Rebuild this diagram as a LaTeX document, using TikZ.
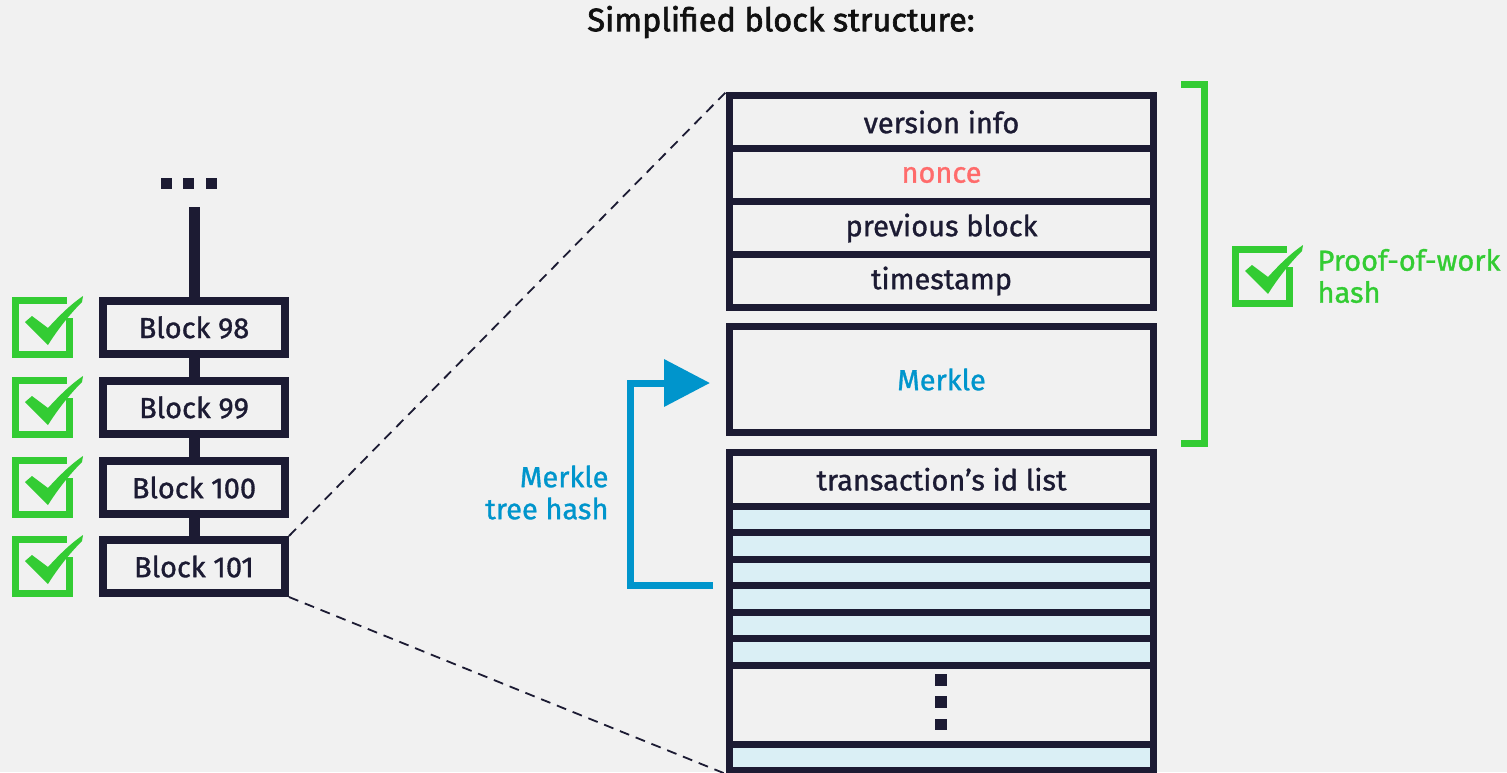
\documentclass[tikz,border=0pt]{standalone}
\usepackage{fontspec}
\setmainfont{Fira Sans}[FakeBold=1.1]
\newfontfamily\titlefont{Fira Sans}[FakeBold=2]
\usetikzlibrary{arrows.meta}

\definecolor{bg}{HTML}{F1F1F1}
\definecolor{ink}{HTML}{1C1B33}
\definecolor{titleink}{HTML}{111111}
\definecolor{okgreen}{HTML}{33CC33}
\definecolor{mblue}{HTML}{0095CC}
\definecolor{noncered}{HTML}{FF6B6B}
\definecolor{rowfill}{HTML}{DAEFF5}

\tikzset{
  labelfont/.style={font=\fontsize{29}{32}\selectfont},
  blockbox/.style={draw=ink, line width=8pt, fill=bg, minimum width=182pt,
    minimum height=53pt, inner sep=0pt, labelfont, text=ink},
  fieldbox/.style={draw=ink, line width=7pt, minimum width=424pt,
    minimum height=53pt, inner sep=0pt, labelfont, text=ink},
  txrow/.style={draw=ink, line width=7pt, fill=rowfill, minimum width=424pt,
    minimum height=26.5pt, inner sep=0pt},
  chainlink/.style={draw=ink, line width=11pt},
  zoomline/.style={draw=ink, line width=1.8pt, dash pattern=on 10pt off 7pt},
  merklearrow/.style={draw=mblue, line width=7pt,
    -{Triangle[length=46pt,width=46pt]}},
  pwbracket/.style={draw=okgreen, line width=7pt},
  checkicon/.pic={
    \draw[okgreen, line width=7pt] (57.5,21) -- (57.5,57.5) -- (3.5,57.5)
      -- (3.5,3.5) -- (55,3.5);
    \fill[okgreen] (13,25) -- (20,19) -- (36,31)
      .. controls (48,18) and (58,8) .. (71,-1) -- (70,5)
      .. controls (58,17) and (46,32) .. (36,48) -- cycle;
  }
}

\begin{document}
\begin{tikzpicture}[x=1pt,y=-1pt]
\fill[bg] (0,0) rectangle (1507,772);
\useasboundingbox (0,0) rectangle (1507,772);
\clip (0,0) rectangle (1507,772);

% title
\node[font=\titlefont\fontsize{32.5}{36}\selectfont, text=titleink] (title) at (781,22)
  {Simplified block structure:};

% chain of blocks
\fill[ink] (161,178) rectangle (172,189);
\fill[ink] (183,178) rectangle (194,189);
\fill[ink] (206,178) rectangle (217,189);
\coordinate (chaintop) at (194,207);

\node[blockbox] (b98)  at (194,327.5) {Block 98};
\node[blockbox] (b99)  at (194,407.5) {Block 99};
\node[blockbox] (b100) at (194,487.5) {Block 100};
\node[blockbox] (b101) at (194,566.5) {Block 101};

\draw[chainlink] (chaintop) -- (b98.north);
\draw[chainlink] (b98.south) -- (b99.north);
\draw[chainlink] (b99.south) -- (b100.north);
\draw[chainlink] (b100.south) -- (b101.north);

% verified marks
\pic at (12,297) {checkicon};
\pic at (12,377) {checkicon};
\pic at (12,457) {checkicon};
\pic at (12,536) {checkicon};

% block header
\node[fieldbox] (version) at (941.5,122) {version info};
\node[fieldbox, text=noncered] (nonce) at (941.5,175) {nonce};
\node[fieldbox] (prev) at (941.5,228) {previous block};
\node[fieldbox] (time) at (941.5,281) {timestamp};

\node[fieldbox, minimum height=106pt, text=mblue] (merkle) at (941.5,379.5) {Merkle};

% transaction list
\node[fieldbox, minimum height=53.5pt] (txhead) at (941.5,479.25) {transaction’s id list};
\node[txrow] (t1) at (941.5,519.25) {};
\node[txrow] (t2) at (941.5,545.75) {};
\node[txrow] (t3) at (941.5,572.25) {};
\node[txrow] (t4) at (941.5,598.75) {};
\node[txrow] (t5) at (941.5,625.25) {};
\node[txrow] (t6) at (941.5,651.75) {};
\node[fieldbox, minimum height=79pt] (gap) at (941.5,704.5) {};
\node[txrow] (t7) at (941.5,757.25) {};
\node[txrow] (t8) at (941.5,783.75) {};
\fill[ink] (935,674) rectangle (947,686);
\fill[ink] (935,696) rectangle (947,708);
\fill[ink] (935,719) rectangle (947,730);
\coordinate (txbottom) at (726,774);

% zoom lines
\draw[zoomline] (b101.north east) -- (version.north west);
\draw[zoomline] (b101.south east) -- (txbottom);

% merkle tree hash arrow
\coordinate (mfrom) at (713,585.5);
\coordinate (mto) at (710,383);
\draw[merklearrow] (mfrom) -- (630.5,585.5) |- (mto);
\node[anchor=east, align=right, text=mblue, labelfont] (mlabel) at (612,492.5)
  {Merkle\\tree hash};

% proof-of-work bracket
\draw[pwbracket] (1181,84.5) -- (1204.5,84.5) -- (1204.5,443.5) -- (1181,443.5);
\pic at (1232,246) {checkicon};
\node[anchor=west, align=left, text=okgreen, labelfont] (pow) at (1314,276)
  {Proof-of-work\\hash};
\end{tikzpicture}
\end{document}
